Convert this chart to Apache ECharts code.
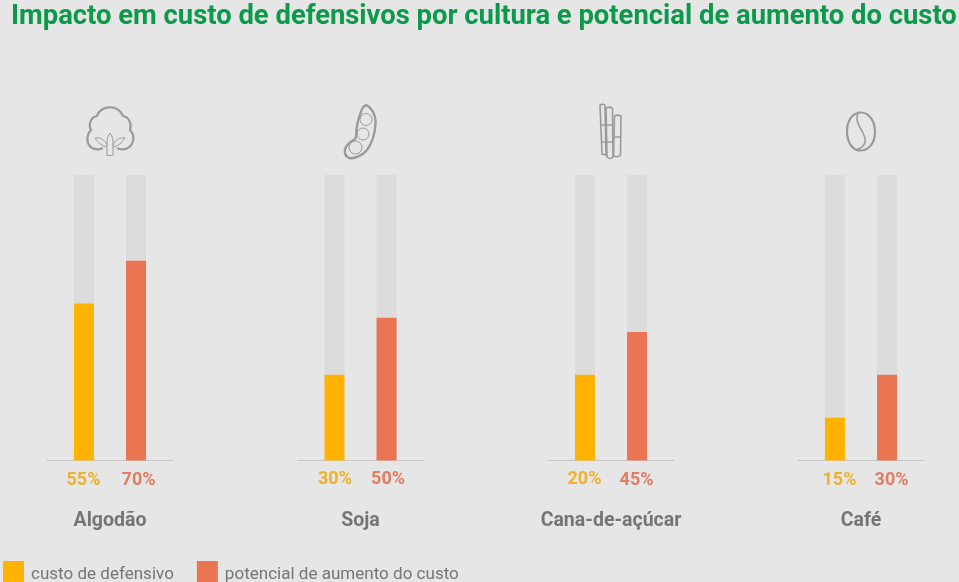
<!DOCTYPE html>
<html><head><meta charset="utf-8">
<style>html,body{margin:0;padding:0;background:#e6e6e6;overflow:hidden}#c{width:959px;height:582px}</style>
<script src="https://cdn.jsdelivr.net/npm/echarts@6/dist/echarts.min.js"></script>
</head><body><div id="c"></div>
<script>
const titleText = 'Impacto em custo de defensivos por cultura e potencial de aumento do custo';
const categories = ['Algodão', 'Soja', 'Cana-de-açúcar', 'Café'];
const custoBars = [55, 30, 30, 15];
const potencialBars = [70, 50, 45, 30];
const custoLabels = ['55%', '30%', '20%', '15%'];
const potencialLabels = ['70%', '50%', '45%', '30%'];
const seriesNames = ['custo de defensivo', 'potencial de aumento do custo'];
const gridLefts = [47, 297.5, 548, 798];
const labelNudge = [[[-0.5, 1], [2.5, 1]], [[0.5, 0], [1.5, 0]], [[-0.5, 0], [-0.5, 1]], [[4.5, 1], [4.5, 1]]];
const GREY = '#757575', ORANGE = '#ffb300', RED = '#e97553', ICON = '#9a9a9a';

const grids = [], xAxes = [], yAxes = [], series = [];
categories.forEach((name, i) => {
  grids.push({left: gridLefts[i], top: 175, width: 126, height: 285.5});
  xAxes.push({gridIndex: i, type: 'value', min: -0.71, max: 1.71, splitLine: {show: false},
    axisTick: {show: false}, axisLabel: {show: false},
    axisLine: {show: true, onZero: false, lineStyle: {color: '#c6c6c6', width: 1}},
    name, nameLocation: 'middle', nameGap: 51,
    nameTextStyle: {fontFamily: 'Roboto', fontWeight: 'bold', fontSize: 19.5, color: GREY}});
  yAxes.push({gridIndex: i, type: 'value', min: 0, max: 100, show: false});
  [[custoBars, custoLabels, ORANGE, 0], [potencialBars, potencialLabels, RED, 1]].forEach(([vals, labs, color, pos], s) => {
    series.push({type: 'bar', name: seriesNames[s], xAxisIndex: i, yAxisIndex: i,
      barWidth: 20, barGap: '-100%',
      data: [[pos, vals[i]]], itemStyle: {color},
      showBackground: true, backgroundStyle: {color: '#dcdcdc'},
      label: {show: false}});
    series.push({type: 'scatter', name: seriesNames[s] + ' rótulo', xAxisIndex: i, yAxisIndex: i,
      data: [[pos, 0]], symbolSize: 0, silent: true,
      label: {show: true, position: 'bottom', distance: 10, offset: labelNudge[i][s], formatter: labs[i],
        fontFamily: 'Roboto', fontWeight: 'bold', fontSize: 18, color: color === ORANGE ? '#f0a400' : '#e2623f'}});
  });
});

let shapeId = 0;
const icon = (d, w) => {
  const t = 'cropIcon' + (shapeId++);
  echarts.graphic.registerShape(t, echarts.graphic.extendPath(d));
  return {type: t, silent: true, style: {fill: 'none', stroke: ICON, lineWidth: w || 2}};
};
const circle = (cx, cy, r) => ({type: 'circle', silent: true, shape: {cx, cy, r},
  style: {fill: 'none', stroke: ICON, lineWidth: 1}});
const graphics = [
  icon('M103 148C97 151 89 149 87.5 141C87 136 89 132 91 130C88 124 91 117 97 116C99 110 105 107 110 107.5C116 107 121 111 123 116C129 117 132 124 130 130C133 133 134 137 133 141C131 149 123 151 117 148', 2.2),
  icon('M107 147L107 155.5L113 155.5L113 147M110 133C107 137 107 141 107 147M110 133C113 137 113 141 113 147M107 147C102 146 98 143 95 138C100 137 105 140 107 145M113 147C118 146 122 143 125 138C120 137 115 140 113 145', 1),
  icon('M366 105C371 107 376 114 375.5 124C375 135 372 143 367 150C362 156 354 159 349 158C344 156 344 150 346 147C348 143 352 141 355 139C357 136 356 131 357 126C358 119 360 115 361 112C362 108 364 106 366 105Z', 2.4),
  circle(366, 119.5, 6), circle(363, 134, 6), circle(355.5, 147.5, 6.5),
  icon('M600 105C601 104 604 104 605 105L606 155L602 154ZM600.5 125L606 125M601 142L606 142', 1.6),
  icon('M606 108C608 107 611 107 612.5 108.5L613 157C611 159 609 159 607 157ZM606.5 125L613 125M607 142L613 142', 1.6),
  icon('M614.5 116C616 115 619 115 621 116L620.5 155C619 157 616 157 613.5 156ZM614 137L621 137', 1.6),
  icon('M861 112.5C869 112.5 875 121 875 132C875 143 869 150.5 860 150.5C852 150.5 847 142 847 131C847 120 853 112.5 861 112.5Z', 2.2),
  icon('M858 113C855 120 859 126 862 131C865 137 867 142 863 146C861 148 858 149 856 150', 1.5)
];

const chart = echarts.init(document.getElementById('c'), null, {renderer: 'canvas'});
chart.setOption({
  animation: false,
  backgroundColor: '#e6e6e6',
  title: {text: titleText, left: 11, top: 4, padding: 0,
    textStyle: {fontFamily: 'Roboto', fontWeight: 'bold', fontSize: 27.4, color: '#0b9a4a'}},
  legend: {left: 3, top: 561, padding: 0, itemWidth: 21, itemHeight: 27, itemGap: 23,
    icon: 'path://M0 0H21V21H0ZM0 27H.01V27Z', data: seriesNames, selectedMode: false,
    textStyle: {fontFamily: 'Roboto', fontSize: 17.05, color: GREY, padding: [0, 0, 0, 2]}},
  grid: grids, xAxis: xAxes, yAxis: yAxes, series,
  graphic: graphics
});
</script></body></html>
